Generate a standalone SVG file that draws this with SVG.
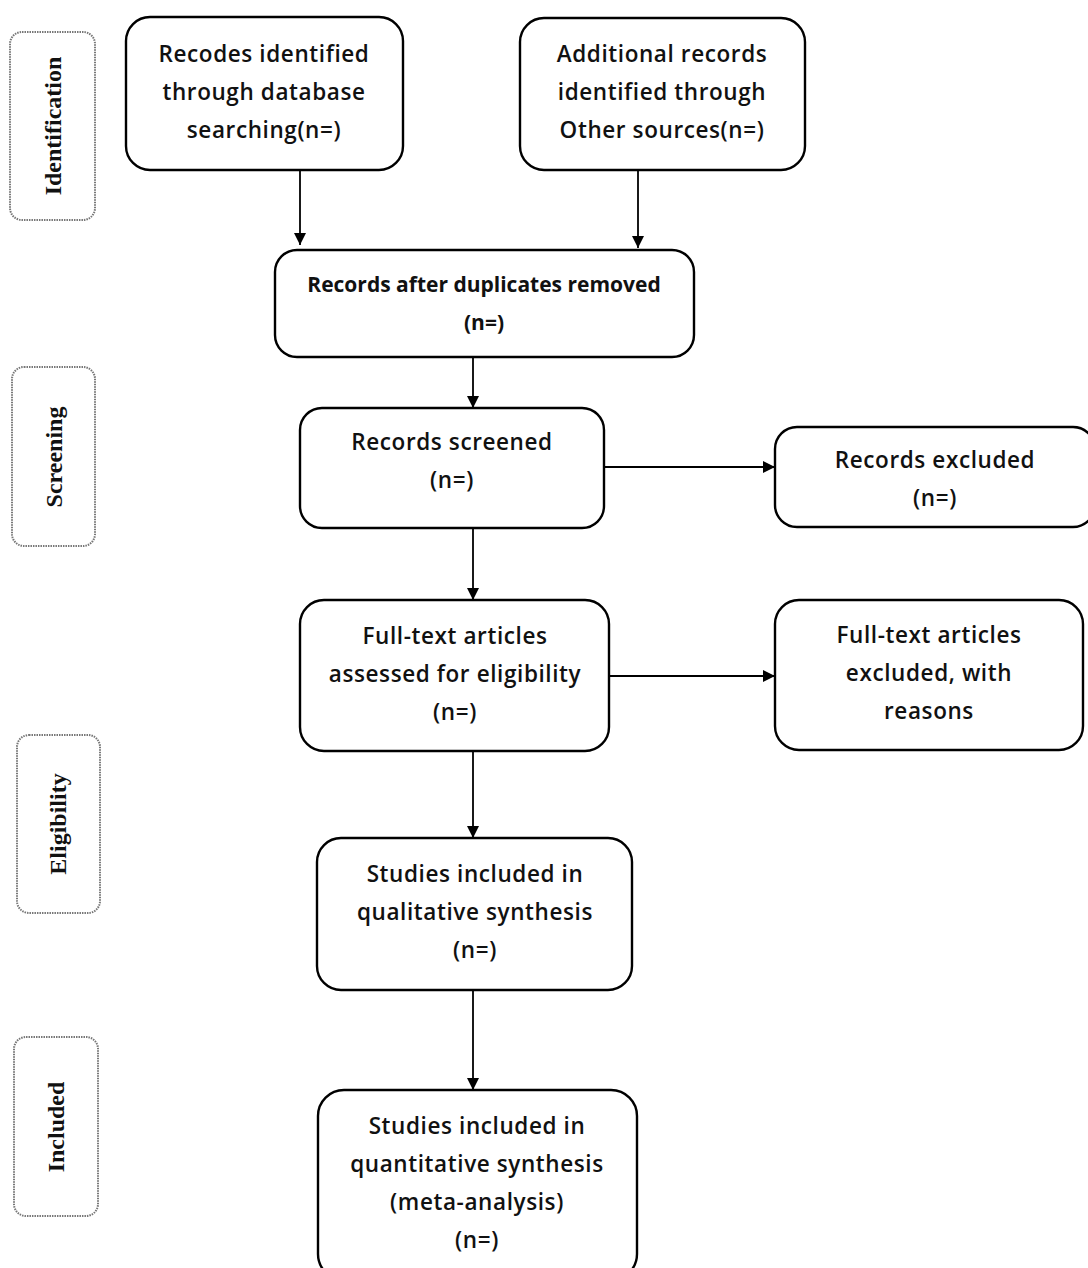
<svg xmlns="http://www.w3.org/2000/svg" width="1088" height="1268" viewBox="0 0 1088 1268">
<style>
.box{fill:#fff;stroke:#000;stroke-width:2.4}
.side{fill:#fff;stroke:#777;stroke-width:2;stroke-dasharray:1.5 1}
.t{font-family:"Open Sans","Liberation Sans",sans-serif;font-size:22.5px;font-weight:600;letter-spacing:0.6px;fill:#111;text-anchor:middle}
.b{font-weight:bold;font-size:21px;letter-spacing:0}
.s{font-family:"Liberation Serif","Times New Roman",serif;font-weight:bold;font-size:24px;fill:#111;text-anchor:middle}
.c{stroke:#000;stroke-width:1.8;fill:none;marker-end:url(#ah)}
</style>
<defs>
<marker id="ah" viewBox="0 0 10 10" refX="10" refY="5" markerWidth="13" markerHeight="12" markerUnits="userSpaceOnUse" orient="auto">
<path d="M0,0 L10,5 L0,10 z" fill="#000"/>
</marker>
</defs>
<rect width="1088" height="1268" fill="#fff"/>
<g id="side-identification"><rect class="side" x="10" y="32" width="85" height="188" rx="12"/><text class="s" transform="translate(61,126) rotate(-90)">Identification</text></g>
<g id="side-screening"><rect class="side" x="12" y="367" width="83" height="179" rx="12"/><text class="s" transform="translate(62,457) rotate(-90)">Screening</text></g>
<g id="side-eligibility"><rect class="side" x="17" y="735" width="83" height="178" rx="12"/><text class="s" transform="translate(66,824) rotate(-90)">Eligibility</text></g>
<g id="side-included"><rect class="side" x="14" y="1037" width="84" height="179" rx="12"/><text class="s" transform="translate(64,1127) rotate(-90)">Included</text></g>
<g id="connectors">
<line class="c" x1="300" y1="170" x2="300" y2="245"/>
<line class="c" x1="638" y1="170" x2="638" y2="248"/>
<line class="c" x1="473" y1="357" x2="473" y2="408"/>
<line class="c" x1="604" y1="467" x2="775" y2="467"/>
<line class="c" x1="473" y1="528" x2="473" y2="600"/>
<line class="c" x1="609" y1="676" x2="775" y2="676"/>
<line class="c" x1="473" y1="751" x2="473" y2="838"/>
<line class="c" x1="473" y1="990" x2="473" y2="1090"/>
</g>
<g id="n1"><rect class="box" x="126" y="17" width="277" height="153" rx="24"/><text class="t" x="264" y="62">Recodes identified</text><text class="t" x="264" y="100">through database</text><text class="t" x="264" y="138">searching(n=)</text></g>
<g id="n2"><rect class="box" x="520" y="18" width="285" height="152" rx="24"/><text class="t" x="662" y="62">Additional records</text><text class="t" x="662" y="100">identified through</text><text class="t" x="662" y="138">Other sources(n=)</text></g>
<g id="n3"><rect class="box" x="275" y="250" width="419" height="107" rx="22"/><text class="t b" x="484" y="292">Records after duplicates removed</text><text class="t b" x="484" y="330">(n=)</text></g>
<g id="n4"><rect class="box" x="300" y="408" width="304" height="120" rx="22"/><text class="t" x="452" y="450">Records screened</text><text class="t" x="452" y="488">(n=)</text></g>
<g id="n5"><rect class="box" x="775" y="427" width="320" height="100" rx="22"/><text class="t" x="935" y="468">Records excluded</text><text class="t" x="935" y="506">(n=)</text></g>
<g id="n6"><rect class="box" x="300" y="600" width="309" height="151" rx="24"/><text class="t" x="455" y="644">Full-text articles</text><text class="t" x="455" y="682">assessed for eligibility</text><text class="t" x="455" y="720">(n=)</text></g>
<g id="n7"><rect class="box" x="775" y="600" width="308" height="150" rx="24"/><text class="t" x="929" y="643">Full-text articles</text><text class="t" x="929" y="681">excluded, with</text><text class="t" x="929" y="719">reasons</text></g>
<g id="n8"><rect class="box" x="317" y="838" width="315" height="152" rx="24"/><text class="t" x="475" y="882">Studies included in</text><text class="t" x="475" y="920">qualitative synthesis</text><text class="t" x="475" y="958">(n=)</text></g>
<g id="n9"><rect class="box" x="318" y="1090" width="319" height="190" rx="26"/><text class="t" x="477" y="1134">Studies included in</text><text class="t" x="477" y="1172">quantitative synthesis</text><text class="t" x="477" y="1210">(meta-analysis)</text><text class="t" x="477" y="1248">(n=)</text></g>
</svg>
